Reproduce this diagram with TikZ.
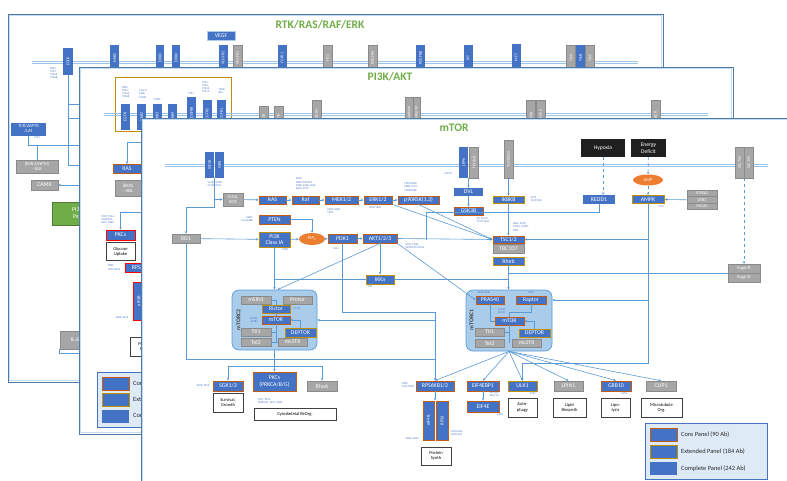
\documentclass[tikz,border=0pt]{standalone}
\usepackage{fontspec}
\setmainfont{Carlito}
\usetikzlibrary{arrows.meta,shapes.geometric}
\definecolor{boxblue}{HTML}{4472C4}
\definecolor{coreor}{HTML}{C55A11}
\definecolor{extgold}{HTML}{BF9000}
\definecolor{greyfill}{HTML}{A6A6A6}
\definecolor{greyline}{HTML}{8A8A8A}
\definecolor{linkblue}{HTML}{5B9BD5}
\definecolor{membblue}{HTML}{9DC3E6}
\definecolor{panelblue}{HTML}{4F7BAA}
\definecolor{panellight}{HTML}{C5DCF0}
\definecolor{titlegreen}{HTML}{70AD47}
\definecolor{cplxfill}{HTML}{A9CCEB}
\definecolor{legfill}{HTML}{DEEBF7}
\definecolor{ampor}{HTML}{ED7D31}
\definecolor{sitetext}{HTML}{4472C4}
\definecolor{greenbox}{HTML}{70AD47}
\tikzset{
  sz/.style 2 args={minimum width=#1, minimum height=#2},
  prot/.style={fill=boxblue, text=white, inner sep=0pt, align=center, font=\fontsize{5.8}{6.2}\selectfont},
  core/.style={prot, draw=coreor, line width=0.9pt},
  ext/.style={prot, draw=extgold, line width=0.9pt},
  grey/.style={prot, fill=greyfill, draw=greyline, line width=0.6pt},
  redbox/.style={prot, draw=red, line width=0.9pt},
  rcpt/.style={prot, rotate=90, font=\fontsize{4}{4.4}\selectfont},
  rcptg/.style={rcpt, fill=greyfill, draw=greyline, line width=0.5pt},
  fate/.style={draw=black!75, line width=0.8pt, fill=white, inner sep=0pt, align=center, font=\fontsize{4.5}{5.3}\selectfont},
  cue/.style={fill=black!88, text=white, inner sep=0pt, align=center, font=\fontsize{5.6}{6.6}\selectfont},
  blob/.style={ellipse, fill=ampor, text=white, inner sep=0pt, font=\fontsize{4.4}{5}\selectfont},
  site/.style={text=sitetext, inner sep=0pt, align=left, font=\fontsize{2.8}{3.2}\selectfont},
  link/.style={draw=linkblue, line width=0.6pt},
  memb/.style={draw=membblue, line width=1pt},
  panel/.style={draw=panelblue, line width=0.9pt, fill=white},
  rim/.style={draw=panellight, line width=0.7pt},
  ttl/.style={text=titlegreen, font=\bfseries\fontsize{11.5}{12}\selectfont},
  cplx/.style={draw=linkblue, fill=cplxfill, rounded corners=7pt, line width=0.7pt},
  legend/.style={draw=boxblue, fill=legfill, line width=0.8pt},
  legtext/.style={anchor=west, inner sep=0pt, font=\fontsize{6.4}{7}\selectfont, text=black!85},
}
\begin{document}
\begin{tikzpicture}[x=1pt, y=-1pt, >={Stealth[length=2.6pt,width=2.4pt]}]
\useasboundingbox (0,0) rectangle (787,480);
\clip (0,0) rectangle (787,480);

\draw[panel] (8,14) rectangle (663,382);
\draw[rim] (9.7,15.7) rectangle (661.3,380.3);
\node[ttl] (ttl1) at (320,24.5) {RTK/RAS/RAF/ERK};
\draw[memb] (32,61) -- (638,61);
\draw[memb] (32,63.5) -- (638,63.5);
\node[prot, draw=linkblue!50, line width=0.5pt, sz={28}{9}] (vegf) at (221,35.5) {VEGF};
\node[rcpt, sz={27}{10}] (egfra) at (68,61.5) {EGFR};
\node[rcpt, sz={26}{9}] (erbba) at (114.5,58) {ErbB2};
\node[rcpt, sz={26}{8}] (erbbb) at (160,58) {ErbB3};
\node[rcpt, sz={26}{8}] (erbbc) at (176,58) {ErbB4};
\node[rcpt, sz={26}{9}] (vegfrb) at (223,58) {VEGFR2};
\node[rcptg, sz={26}{9}] (vegfra) at (237.5,58) {VEGFR1};
\node[rcpt, sz={26}{9}] (fgfra) at (282,58) {FGFR1};
\node[rcptg, sz={26}{9}] (flt) at (327.5,58) {FLT3};
\node[rcptg, sz={26}{9}] (pdgfra) at (372.5,58) {PDGFRA};
\node[rcpt, sz={26}{9}] (pdgfrb) at (420.5,58) {PDGFRB};
\node[rcpt, sz={26}{9}] (kit) at (468,58) {KIT};
\node[rcpt, sz={27}{9}] (met) at (516,57.5) {MET};
\node[rcptg, sz={26}{9}] (trka) at (571,58) {TrkA};
\node[rcpt, sz={26}{9}] (trkb) at (580.5,58) {TrkB};
\node[rcptg, sz={26}{9}] (trkc) at (590,58) {TrkC};
\node[site] (sEgfrA) at (54,73) {Y845,\\Y992,\\Y1045,\\Y1068};
\node[prot, sz={35}{13}, font=\fontsize{4.5}{5}\selectfont] (tcr) at (28.5,129) {TCR/ZAP70\\/LAT};
\node[site] (sTcr) at (37,138) {Y191};
\node[grey, sz={42}{13}, font=\fontsize{4.6}{5.1}\selectfont] (alk) at (37,166.5) {(EML4/NPM)\\- ALK};
\node[grey, sz={27}{10}] (camk) at (44.5,185) {CAMK};
\node[prot, fill=greenbox, draw=greenbox!70!black, line width=0.6pt, sz={62}{23}] (pikgrn) at (83,213.5) {PI3K/AKT\\Pathway};
\node[grey, sz={30}{18}] (il6) at (75,340) {IL-6};
\coordinate (j1) at (96,104);
\coordinate (j2) at (96,118);
\coordinate (j3) at (96,145);
\coordinate (j4) at (96,165);
\coordinate (j5) at (96,185);
\coordinate (j6) at (96,353);
\draw[link] (egfra.west) |- (j4);
\draw[link] (egfra.west |- j1) -- (j1);
\draw[link] (egfra.west |- j2) -- (j2);
\draw[link] (tcr.south) |- (j3);
\draw[link] (alk.north) -- (alk.north |- j3);
\draw[link,->] (j5) -- (camk.east);
\draw[link] (il6.south west) |- (j6);

\draw[panel] (79,67) rectangle (733,434);
\draw[rim] (80.7,68.7) rectangle (731.3,432.3);
\node[ttl] (ttl2) at (390,77) {PI3K/AKT};
\draw[extgold, line width=0.9pt] (115,77) rectangle (231,131);
\draw[memb] (104,113) -- (708,113);
\draw[memb] (104,115.5) -- (708,115.5);
\node[rcpt, sz={26}{9}] (egfrb) at (125,117) {EGFR};
\node[rcpt, sz={26}{9}] (erbbd) at (141.5,117) {ErbB2};
\node[rcpt, sz={26}{9}] (erbbe) at (157,117) {ErbB3};
\node[rcpt, sz={26}{9}] (erbbf) at (172.5,117) {ErbB4};
\node[rcpt, sz={33}{9}] (pdgfrc) at (191.5,113.5) {PDGFRB};
\node[rcpt, sz={30}{9}] (vegfrd) at (207,115) {VEGFR2};
\node[rcpt, sz={30}{9}] (vegfrc) at (221.5,115) {VEGFR1};
\node[rcptg, sz={24}{9}] (ilra) at (263.5,118) {IL2R};
\node[rcptg, sz={24}{9}] (ilrb) at (278.5,118) {IL7R};
\node[rcptg, sz={30}{9}] (gpcr) at (316.5,115) {CXCR4};
\node[rcptg, sz={33}{7.5}] (cyta) at (409,113.5) {Cytokine};
\node[rcptg, sz={33}{7.5}] (cytb) at (416.5,113.5) {Receptor};
\node[rcptg, sz={30}{9}] (hla) at (531,115) {HLA};
\node[rcptg, sz={30}{9}] (mhc) at (540.5,115) {MHCII};
\node[rcptg, sz={30}{9}] (bcrr) at (655.5,115) {BCR};
\node[site] (sEgfrB) at (126,92) {Y845,\\Y992,\\Y1045,\\Y1068};
\node[site] (sErbB) at (143,94) {Y1221/\\1222,\\Y1248};
\node[site] (sErbC) at (157,99.5) {Y1289};
\node[site] (sPdgf) at (191,93.5) {Y751};
\node[site] (sVegf) at (206,87) {Y951,\\Y996,\\Y1059,\\Y1175};
\node[site] (sVegfB) at (222,91) {Y853/\\854};
\node[core, sz={28}{9}] (rasb) at (127,169) {RAS};
\node[grey, sz={26}{16}, font=\fontsize{4.9}{5.4}\selectfont] (abl) at (128,188) {(BCR)\\- ABL};
\node[redbox, sz={29}{10}] (pkcb) at (120.5,235) {PKCs};
\node[fate, sz={29}{18}] (gluc) at (120.5,251.5) {Glucose\\Uptake};
\node[site] (sPkcB) at (108,220) {T497, T514,\\T638/641,\\S657, S660};
\node[redbox, sz={40}{9}] (s6kb) at (145,267.5) {RPS6KB1/2};
\node[site] (sS6kB) at (114,267.5) {T389,\\T421/S424};
\node[rcpt, draw=red, line width=0.9pt, sz={38}{12}, font=\fontsize{4.6}{5}\selectfont] (eifb) at (139,301) {eIF4B};
\node[site] (sEifB) at (122,318) {S406, S422};
\node[fate, sz={30}{19}] (protb) at (145,347) {Protein\\Synth};
\coordinate (k1) at (150,142);
\coordinate (k2) at (150,212);
\draw[link,->] (k1) -| (rasb.north);
\draw[link,->] (k2) -| (pkcb.north);
\node[legend, sz={123}{55}] (leg2) at (158.5,399.5) {};
\node[core, sz={27}{13}] (lgA2) at (115.5,383.5) {};
\node[ext, sz={27}{13}] (lgB2) at (115.5,399.5) {};
\node[prot, sz={27}{13}] (lgC2) at (115.5,416) {};
\node[legtext] (ltA2) at (133,383.5) {Core Panel (90 Ab)};
\node[legtext] (ltB2) at (133,399.5) {Extended Panel (184 Ab)};
\node[legtext] (ltC2) at (133,416) {Complete Panel (242 Ab)};

\draw[panel] (141,118) rectangle (800,495);
\draw[rim] (142.7,119.7) rectangle (798,493);
\node[ttl] (ttl3) at (454,128) {mTOR};
\draw[memb] (165,164) -- (768,164);
\draw[memb] (165,166.5) -- (768,166.5);

\node[rcpt, sz={26}{9}] (igf) at (209.5,165) {IGF1R};
\node[rcpt, sz={26}{9}] (insr) at (219.5,165) {INSR};
\node[rcpt, sz={31}{9}] (lrp) at (463.5,162.5) {LRP6};
\node[rcptg, sz={31}{9}] (fzd) at (474,162.5) {Frizzled};
\node[rcptg, sz={38}{9}] (tnf) at (508.5,159) {TNFRSF1A};
\node[rcptg, sz={31}{9}] (slca) at (739.5,162.5) {SLC7A5};
\node[rcptg, sz={31}{9}] (slcb) at (748.5,162.5) {SLC3A2};
\node[cue, sz={44}{18}] (hyp) at (603,148) {Hypoxia};
\node[cue, sz={35}{18}] (enr) at (648.5,148) {Energy\\Deficit};

\node[grey, sz={20}{13}, font=\fontsize{4.8}{5.6}\selectfont] (grb) at (233,199.5) {Grb2,\\SOS};
\node[core, sz={27}{8}] (ras) at (272.5,200) {RAS};
\node[core, sz={27}{8}] (raf) at (305.5,200) {Raf};
\node[core, sz={33}{8}] (mek) at (341.5,200) {MEK1/2};
\node[core, sz={28}{8}] (erk) at (378,200) {ERK1/2};
\node[core, sz={41}{8}] (rsk) at (418.5,200) {p90RSK(1,3)};
\node[core, sz={31}{9}] (pten) at (274.5,219.5) {PTEN};
\node[ext, sz={31}{15}] (pik) at (274.5,239.5) {PI3K\\Class IA};
\node[blob, sz={26}{12}] (pip) at (312,239) {PIP\textsubscript{3}};
\node[core, sz={29}{9}] (pdk) at (342.5,238.5) {PDK1};
\node[core, sz={34}{9}] (akt) at (380,238.5) {AKT1/2/3};
\node[grey, sz={28}{9}] (irs) at (186,238.5) {IRS1};
\node[prot, sz={29}{8}] (dvl) at (468.5,192) {DVL};
\node[core, sz={29}{8}] (gsk) at (468.5,211) {GSK3B};
\node[ext, sz={31}{7}] (ikbkb) at (508.5,199.5) {IKBKB};
\node[core, sz={31}{7}] (tsc) at (508.5,239.5) {TSC1/2};
\node[grey, sz={31}{9}] (tbc) at (508.5,248.5) {TBC1D7};
\node[ext, sz={31}{8}] (rheb) at (508.5,261) {Rheb};
\node[prot, sz={32}{9}] (redd) at (599,199.5) {REDD1};
\node[ext, sz={32}{8}] (ampk) at (648,199.5) {AMPK};
\node[blob, sz={30}{11}] (amp) at (648,180) {AMP};
\node[grey, sz={30}{6.3}, font=\fontsize{4.4}{4.8}\selectfont] (strad) at (702,193.5) {STRAD};
\node[grey, sz={30}{6.3}, font=\fontsize{4.4}{4.8}\selectfont] (lkb) at (702,199.8) {LKB1};
\node[grey, sz={30}{6.3}, font=\fontsize{4.4}{4.8}\selectfont] (mo) at (702,206.1) {MO25};
\node[ext, sz={28}{9}] (ikka) at (380,279.5) {IKKa};
\node[grey, sz={32}{9}, font=\fontsize{4.4}{4.8}\selectfont] (raga) at (744,268.5) {RagA/B};
\node[grey, sz={32}{9}, font=\fontsize{4.4}{4.8}\selectfont] (ragc) at (744,277.5) {RagC/D};

\node[cplx, sz={85}{60}] (c2) at (274.5,320) {};
\node[rotate=90, inner sep=0pt, text=black!75, font=\bfseries\fontsize{5.8}{6}\selectfont] (c2lab) at (238.5,320) {mTORC2};
\node[grey, sz={30}{8}] (msin) at (256,300) {mSIN1};
\node[grey, sz={29}{8}] (protor) at (297.5,300) {Protor};
\node[ext, sz={28}{8}] (rictor) at (276,309) {Rictor};
\node[core, sz={28}{8}] (mtorb) at (276,320) {mTOR};
\node[grey, sz={30}{8}] (ttib) at (256,332) {Tti1};
\node[ext, sz={31}{9}] (deptb) at (300.5,332.5) {DEPTOR};
\node[grey, sz={30}{8}] (telb) at (256,342) {Tel2};
\node[grey, sz={29}{8}] (mlstb) at (292.5,342) {mLST8};
\draw[link] (msin.east) -| (rictor.north);
\draw[link] (rictor) -- (mtorb);
\draw[link] (mtorb.south) -- (mtorb.south |- telb);
\draw[link] (ttib.east) -- (ttib.east -| mtorb);
\draw[link] (telb.east) -- (mlstb.west);
\draw[link,->] (deptb.north) |- (mtorb.east);

\node[cplx, sz={86}{61}] (c1) at (509,320.5) {};
\node[rotate=90, inner sep=0pt, text=black!75, font=\bfseries\fontsize{5.8}{6}\selectfont] (c1lab) at (471.5,320) {mTORC1};
\node[core, sz={28}{8}] (pras) at (490,300) {PRAS40};
\node[core, sz={30}{8}] (rapt) at (531,300) {Raptor};
\node[core, sz={29}{8}] (mtora) at (509.5,321) {mTOR};
\node[grey, sz={29}{8}] (ttia) at (489.5,332) {Tti1};
\node[ext, sz={31}{8}] (depta) at (534.5,333) {DEPTOR};
\node[grey, sz={29}{8}] (tela) at (489.5,343) {Tel2};
\node[grey, sz={29}{8}] (mlsta) at (526.5,343) {mLST8};
\draw[link] (pras.south) |- (mtora.west);
\draw[link] (rapt.south) -- ++(0,8) -| (mtora.north);
\draw[link,->] (depta.north) |- (mtora.east);
\draw[link] (mtora.south) -- (mtora.south |- tela);
\draw[link] (ttia.east) -- (ttia.east -| mtora);

\node[core, sz={30}{10}] (sgk) at (228,386) {SGK1/3};
\node[core, sz={43}{19}] (pkc) at (274.5,381.5) {PKCs\\(PRKCA/B/G)};
\node[grey, sz={30}{10}] (rhoa) at (322,386) {RhoA};
\node[fate, sz={30}{19}] (surv) at (228,402.5) {Survival,\\Growth};
\node[fate, sz={82}{12}] (cyto) at (295,414) {Cytoskeletal ReOrg.};
\node[core, sz={38}{10}] (s6k) at (435,386) {RPS6KB1/2};
\node[core, sz={32}{10}] (ebp) at (483,386) {EIF4EBP1};
\node[core, sz={32}{11}] (eife) at (483,406.5) {EIF4E};
\node[ext, sz={29}{10}] (ulk) at (522.5,386) {ULK1};
\node[grey, sz={29}{10}] (lpin) at (568.5,386) {LPIN1};
\node[core, sz={30}{10}] (grbt) at (616,386) {GRB10};
\node[grey, sz={30}{10}] (clip) at (661,386) {CLIP1};
\node[rcpt, draw=coreor, line width=0.9pt, sz={39}{11}, font=\fontsize{4.6}{5}\selectfont] (eifc) at (428.5,420.5) {eIF4B};
\node[rcpt, draw=coreor, line width=0.9pt, sz={39}{12}, font=\fontsize{4.6}{5}\selectfont] (rps) at (442,420.5) {RPS6};
\node[fate, sz={30}{18}] (prot) at (436,456) {Protein\\Synth};
\node[fate, sz={29}{19}] (auto) at (522.5,407.5) {Auto-\\phagy};
\node[fate, sz={33}{19}] (lipid) at (569.5,407.5) {Lipid\\Biosynth};
\node[fate, sz={29}{19}] (lipo) at (615.5,407.5) {Lipo-\\lysis};
\node[fate, sz={41}{19}] (micro) at (661.5,407.5) {Microtubule\\Org.};

\coordinate (igfb) at (214.5,178);
\coordinate (igfk) at (214.5,207);
\draw[link,->] (igfb) |- (grb.west);
\draw[link,->] (igfb) -- (igfk) -| (irs.north);
\draw[link,->] (grb) -- (ras);
\draw[link,->] (ras) -- (raf);
\draw[link,->] (raf) -- (mek);
\draw[link,->] (mek) -- (erk);
\draw[link,->] (erk) -- (rsk);
\draw[link,->] (irs) -- (pik);
\draw[link,->] (pik) -- (pip);
\draw[link,->] (pip) -- (pdk);
\draw[link,->] (pdk) -- (akt);
\draw[link,->] (pten.east) -| (pip.north);
\draw[link,->] (pik.south) -- (c2.north);
\draw[link,->] (akt.south) -- ([xshift=3pt]c2.north);
\draw[link,->] (akt.south) -- (ikka.north);
\draw[link] (pik.south |- ikka.west) -- (ikka.west);
\draw[link] (ikka.east) -- (rheb.south |- ikka.east);
\draw[link,->] (akt.south east) -- (pras.west);
\draw[link,->] (akt.east) -- (tsc.west);
\draw[link,->] (erk.south east) -- (tsc.west);
\draw[link,->] (rsk.south) -- (tsc.west);
\coordinate (wntb) at (468.5,178);
\draw[link,->] (wntb) -- (dvl.north);
\draw[link,->] (dvl) -- (gsk);
\draw[link,->] (tnf.west) -- (ikbkb.north);
\draw[link,->] (ikbkb) -- (tsc);
\draw[link,->] (rheb.south) -- (rheb.south |- c1.north);
\coordinate (gskk) at (426,212);
\draw[link] (redd.south) |- (gskk) -- (gskk |- tsc.west);
\draw[link,dashed,->] (hyp.south) -- (hyp.south |- redd.north);
\draw[link,dashed,->] (enr) -- (amp);
\draw[link,dashed,->] (amp) -- (ampk);
\draw[link,->] (lkb.west) -- (ampk.east);
\draw[link,->] (ampk.south) |- (tsc.east);
\draw[link,->] (ampk.south) |- (rapt -| c1.east);
\coordinate (ulkk) at (648,363);
\draw[link,->] (ampk.south) -- (ulkk) -| (ulk.north);
\draw[link] (raga.south west) -- (raga.south west -| rheb.south);
\coordinate (slcf) at (744,178);
\draw[link,dashed,->] (slcf) -- (raga.north);
\draw[link,->] (c1.south) -- (s6k.north);
\draw[link,->] (c1.south) -- (ebp.north);
\draw[link,->] (c1.south) -- (ulk.north);
\draw[link,->] (c1.south) -- (lpin.north);
\draw[link,->] (c1.south) -- (grbt.north);
\draw[link,->] (c1.south) -- (clip.north);
\draw[link,->] (s6k.south) -- (s6k.south |- eifc.east);
\draw[link,->] (ebp) -- (eife);
\coordinate (c2k) at (274.5,366);
\draw[link] (c2.south) -- (c2k);
\draw[link,->] (c2k) -| (sgk.north);
\draw[link,->] (c2k) -| (rhoa.north);
\draw[link,->] (c2k) -- (pkc.north);
\coordinate (pdkk) at (435,312);
\draw[link,->] (pdk.south) |- (pdkk) -- (s6k.north);
\coordinate (fbk) at (435,359);
\draw[link] (irs.south) |- (fbk);
\coordinate (fbm) at (435,320);
\draw[link,->] (fbm) -- (c2.east);

\node[site] (sIgf) at (215,184) {Y1135/1136/\\Y1150/1151};
\node[site] (sRaf) at (306,184) {S259,\\S289/296/301,\\S338, S338, S445,\\S642, S729};
\node[site] (sMek) at (334,211) {S218, S222,\\T292};
\node[site] (sErk) at (375,208) {T202/Y204};
\node[site] (sRsk) at (411,187) {T359/S363,\\S380, T573,\\T348/S360};
\node[site, align=right] (sPten) at (247,219.5) {S380,\\Ser pS380};
\node[site] (sPik) at (285,250) {Y458};
\node[site] (sPdk) at (336,249) {S241};
\node[site] (sAkt) at (415,246) {S129, T308,\\S450/S473/S474};
\node[site] (sLrp) at (448,173.5) {S1490};
\node[site] (sGsk) at (483,220) {S9, S21/9,\\Y279/Y216};
\node[site] (sIkb) at (536,199.5) {S176,\\S176/180};
\node[site] (sTsc) at (521,227) {S664, S939,\\S1254, S1387,\\S981};
\node[site] (sAmpk) at (661,207) {T172};
\node[site] (sIkka) at (370,287) {T23};
\node[site] (sRict) at (297,308.5) {T1135};
\node[site, align=right] (sMtorB) at (254,320) {S2448,\\S2481};
\node[site] (sPras) at (484,292.5) {S183/T246};
\node[site] (sRapt) at (531,292.5) {S792};
\node[site] (sMtorA) at (502,311) {S2448,\\S2481};
\node[site] (sSgk) at (203,386) {S422, T256};
\node[site] (sPkc) at (270,401) {T497, T514,\\T638/641, S657, S660};
\node[site] (sS6k) at (408,385) {T389,\\T421/S424};
\node[site] (sEbp) at (494,394.5) {T37/46,\\S65,T70};
\node[site] (sEife) at (500,414.5) {S209};
\node[site] (sUlk) at (533,394) {S555};
\node[site] (sGrb) at (624,394) {S476};
\node[site] (sRps) at (457,433) {S235/236,\\S240/244};
\node[site] (sEifc) at (412,439) {S406, S422};

\node[legend, sz={122}{56}] (leg3) at (706,451) {};
\node[core, sz={27}{13}] (lgA3) at (663.5,434.5) {};
\node[ext, sz={27}{13}] (lgB3) at (663.5,451.5) {};
\node[prot, sz={27}{13}] (lgC3) at (663.5,468.5) {};
\node[legtext] (ltA3) at (681,434.5) {Core Panel (90 Ab)};
\node[legtext] (ltB3) at (681,451.5) {Extended Panel (184 Ab)};
\node[legtext] (ltC3) at (681,468.5) {Complete Panel (242 Ab)};
\end{tikzpicture}
\end{document}
